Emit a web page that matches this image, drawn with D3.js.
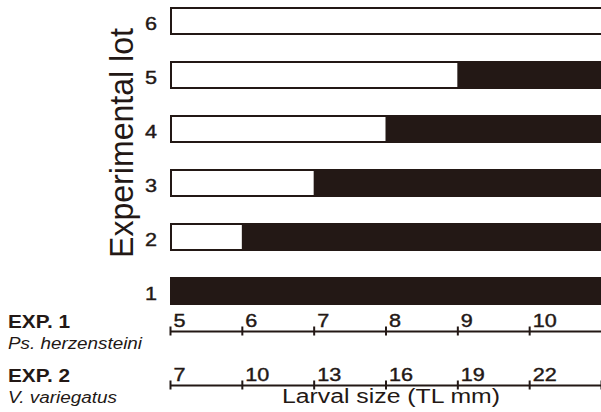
<!DOCTYPE html>
<html><head><meta charset="utf-8">
<script src="https://cdn.jsdelivr.net/npm/d3@7"></script>
<style>body{margin:0;background:#fff}svg{display:block}text{font-family:"Liberation Sans",Arial,sans-serif;fill:#231815}</style>
</head><body><svg id="c" width="601" height="412"></svg>
<script>
const lots = [1, 2, 3, 4, 5, 6];
const switchSize = [5, 6, 7, 8, 9, 11]; // EXP.1 size (mm) where the black segment begins
const exp1Ticks = [5, 6, 7, 8, 9, 10];
const exp2Ticks = [7, 10, 13, 16, 19, 22, 25];
const exp2Labels = ["7", "10", "13", "16", "19", "22", ""];
const exp1Domain = [5, 11];
const exp2Domain = [7, 25];

const ink = "#231815";
const svg = d3.select("#c");
const x1 = d3.scaleLinear().domain(exp1Domain).range([170, 601]);
const x2 = d3.scaleLinear().domain(exp2Domain).range([170, 601]);
const y = d3.scaleBand().domain(lots.slice().reverse()).range([7, 305]).paddingInner(26/54).paddingOuter(0);

const data = lots.map((l, i) => ({lot: l, sw: switchSize[i]}));
const g = svg.append("g");
g.selectAll("rect.w").data(data).join("rect").attr("class", "w")
  .attr("x", x1(5) + 1).attr("y", d => y(d.lot) + 1)
  .attr("width", x1(11) - x1(5)).attr("height", y.bandwidth() - 2)
  .attr("fill", "#fff").attr("stroke", ink).attr("stroke-width", 2);
g.selectAll("rect.b").data(data.filter(d => d.sw < 11)).join("rect").attr("class", "b")
  .attr("x", d => x1(d.sw)).attr("y", d => y(d.lot))
  .attr("width", d => x1(11) - x1(d.sw)).attr("height", y.bandwidth())
  .attr("fill", ink);

// y tick labels
svg.selectAll("text.yl").data(lots).join("text").attr("class", "yl")
  .attr("text-anchor", "end").attr("font-size", 18)
  .attr("stroke", ink).attr("stroke-width", 0.4)
  .attr("transform", d => `translate(157,${y(d) + y.bandwidth()/2 + 9}) scale(1.2,1)`).text(d => d);

svg.append("text").attr("transform", "translate(133,143) rotate(-90)")
  .attr("text-anchor", "middle").attr("font-size", 33)
  .attr("textLength", 230).attr("lengthAdjust", "spacingAndGlyphs")
  .text("Experimental lot");

// axes
function drawAxis(scale, ticks, labels, yPos) {
  const a = svg.append("g").attr("transform", `translate(0,${yPos})`);
  const ax = d3.axisBottom(scale).tickValues(ticks).tickSize(0).tickFormat((d, i) => labels[i]);
  a.call(ax);
  a.select(".domain").attr("stroke", ink).attr("stroke-width", 2);
  a.selectAll(".tick line").attr("y1", -4.5).attr("y2", 4.5).attr("stroke", ink).attr("stroke-width", 2);
  a.selectAll(".tick text").attr("x", 0).attr("y", 0).attr("dy", 0)
    .attr("text-anchor", "start").attr("font-size", 18).attr("fill", ink)
    .attr("stroke", ink).attr("stroke-width", 0.4)
    .attr("transform", "translate(3,-4) scale(1.2,1)")
    .style("font-family", '"Liberation Sans",Arial,sans-serif');
}
drawAxis(x1, exp1Ticks, exp1Ticks.map(String), 331);
drawAxis(x2, exp2Ticks, exp2Labels, 385);

svg.append("text").attr("x", 8).attr("y", 328).attr("font-size", 18).attr("font-weight", "bold")
  .attr("textLength", 62).attr("lengthAdjust", "spacingAndGlyphs").text("EXP. 1");
svg.append("text").attr("x", 8).attr("y", 349).attr("font-size", 16).attr("font-style", "italic")
  .attr("textLength", 134).attr("lengthAdjust", "spacingAndGlyphs").text("Ps. herzensteini");
svg.append("text").attr("x", 8).attr("y", 382).attr("font-size", 18).attr("font-weight", "bold")
  .attr("textLength", 62).attr("lengthAdjust", "spacingAndGlyphs").text("EXP. 2");
svg.append("text").attr("x", 8).attr("y", 403).attr("font-size", 16).attr("font-style", "italic")
  .attr("textLength", 109).attr("lengthAdjust", "spacingAndGlyphs").text("V. variegatus");
svg.append("text").attr("x", 282).attr("y", 403).attr("font-size", 20)
  .attr("textLength", 218).attr("lengthAdjust", "spacingAndGlyphs").text("Larval size (TL mm)");
</script></body></html>
